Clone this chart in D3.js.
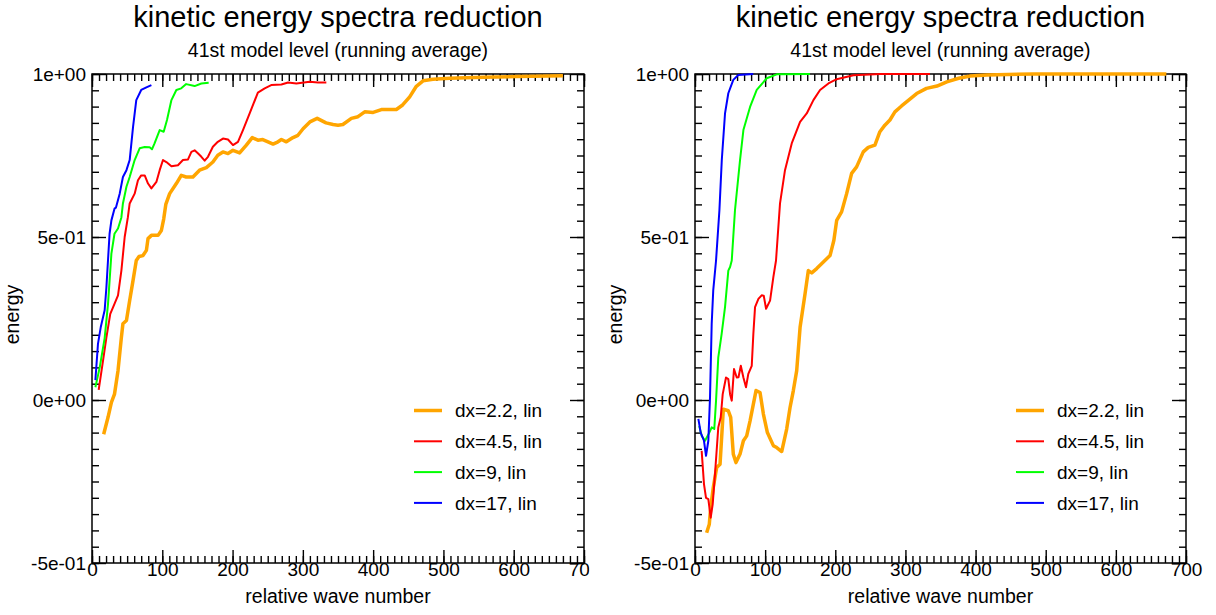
<!DOCTYPE html>
<html>
<head>
<meta charset="utf-8">
<script src="https://cdn.jsdelivr.net/npm/d3@7"></script>
<style>
  body { margin: 0; background: #fff; }
  text { font-family: "Liberation Sans", Arial, Helvetica, sans-serif; fill: #000; }
</style>
</head>
<body>
<div id="chart"></div>
<script>
// ---- data: [relative wave number, energy] ----
var seriesNames = ["dx=2.2, lin", "dx=4.5, lin", "dx=9, lin", "dx=17, lin"];
var seriesColors = ["#ffa500", "#ff0000", "#00ff00", "#0000ff"];
var seriesWidths = [3.5, 2, 2, 2];

var titleText = "kinetic energy spectra reduction";
var subtitleText = "41st model level (running average)";
var xLabelText = "relative wave number";
var yLabelText = "energy";

var xTickValues = [0, 100, 200, 300, 400, 500, 600, 700];
var xTickLabels = ["0", "100", "200", "300", "400", "500", "600", "700"];
var yTickValues = [-0.5, 0, 0.5, 1];
var yTickLabels = ["-5e-01", "0e+00", "5e-01", "1e+00"];

// left panel
var left22 = [[16.6,-0.105],[22.8,-0.053],[27.6,-0.007],[32,0.018],[37,0.09],[41.8,0.192],[44,0.234],[49,0.244],
  [53.6,0.305],[58.4,0.367],[63,0.428],[66.9,0.44],[72.5,0.443],[77.4,0.459],[79.7,0.495],[84.5,0.505],[94,0.505],
  [98.7,0.52],[102,0.555],[105,0.6],[110.5,0.633],[120,0.664],[127,0.689],[134,0.684],[143.6,0.684],[153,0.705],
  [162.7,0.713],[172,0.73],[179,0.751],[186.3,0.761],[193.5,0.756],[200.6,0.766],[210,0.758],[219.6,0.782],[228,0.805],
  [236,0.797],[243,0.799],[250.4,0.792],[257.6,0.785],[264.6,0.792],[269.5,0.799],[276.5,0.792],[286,0.805],[293,0.812],
  [300.3,0.832],[310,0.853],[320.4,0.864],[333,0.85],[343,0.845],[350,0.843],[357,0.845],[369,0.864],[378.4,0.869],
  [388,0.884],[400,0.882],[411.7,0.891],[421,0.891],[433,0.891],[442,0.905],[452,0.93],[461,0.961],[471,0.979],
  [485,0.984],[509,0.987],[556,0.99],[604,0.992],[670,0.995]];
var left45 = [[9.5,0.031],[15.7,0.121],[20.5,0.192],[26,0.264],[32,0.295],[37,0.321],[41.8,0.397],[46.5,0.5],[51,0.56],
  [53.6,0.603],[60.7,0.633],[65.4,0.674],[70,0.689],[75,0.689],[79.7,0.664],[84.5,0.649],[91.6,0.669],[96.3,0.705],
  [101,0.736],[105.8,0.73],[113,0.717],[122.3,0.72],[129.4,0.736],[136.6,0.738],[141.4,0.761],[146,0.766],[151,0.756],
  [155.6,0.746],[160.3,0.734],[165,0.746],[172,0.777],[179,0.792],[186.3,0.802],[193.5,0.799],[200.6,0.782],[207.7,0.792],
  [214.8,0.828],[224.3,0.879],[236,0.943],[245.7,0.956],[255,0.966],[269.5,0.968],[279,0.974],[290.8,0.971],
  [309.7,0.976],[321.5,0.974],[333.4,0.974]];
var left9 = [[4.8,0.039],[11,0.1],[18,0.19],[22.8,0.295],[27.6,0.449],[32,0.51],[37,0.526],[41.8,0.56],[44,0.603],
  [49,0.654],[53.6,0.684],[60.7,0.736],[67.8,0.772],[75,0.776],[82,0.775],[85.3,0.769],[89,0.787],[96.3,0.828],
  [102,0.823],[106.7,0.859],[113,0.92],[120,0.951],[127,0.956],[134,0.969],[146,0.963],[155.6,0.971],[166,0.973]];
var left17 = [[4.8,0.061],[8.5,0.172],[12.4,0.223],[18,0.275],[20.5,0.346],[25,0.51],[27.6,0.551],[32,0.587],[34,0.59],
  [39.4,0.633],[44,0.684],[49,0.705],[53.6,0.736],[58.4,0.838],[63,0.92],[70,0.951],[77.4,0.959],[84.5,0.966]];

// right panel
var right22 = [[16.6,-0.407],[20.4,-0.381],[22.4,-0.33],[26,-0.269],[30.9,-0.207],[35.7,-0.197],[40.4,-0.028],
  [47.5,-0.033],[50.9,-0.053],[54.6,-0.166],[58.4,-0.192],[64.2,-0.166],[69,-0.125],[73.7,-0.11],[78.5,-0.064],
  [87,0.029],[92.7,0.023],[97.5,-0.043],[103.2,-0.1],[111.7,-0.14],[116.5,-0.146],[123.6,-0.158],[130.7,-0.089],
  [135.5,-0.023],[140.2,0.029],[145,0.09],[149.8,0.223],[156.9,0.326],[161.6,0.397],[166.4,0.39],[173.5,0.403],
  [183,0.423],[192.5,0.443],[198,0.49],[202,0.551],[209,0.577],[216.2,0.633],[223.3,0.695],[230.4,0.715],[239.9,0.761],
  [247,0.775],[256.5,0.782],[263.6,0.823],[270.7,0.843],[277.9,0.859],[285,0.884],[294.5,0.902],[302,0.915],[316,0.94],
  [330,0.956],[345,0.963],[359,0.976],[376,0.987],[392.4,0.994],[416,0.997],[482,1.0],[672,1.0]];
var right45 = [[9.5,-0.156],[12.8,-0.258],[15.7,-0.3],[19,-0.304],[22.4,-0.361],[25.2,-0.32],[28.5,-0.227],[33.2,-0.084],
  [36.7,-0.053],[39.5,0.018],[44.2,0.069],[47.5,0.064],[50,0.018],[52.4,-0.002],[55.6,0.095],[59.5,0.069],[62,0.07],
  [65.3,0.105],[69,0.069],[72.7,0.039],[76,0.08],[80.9,0.105],[83.2,0.203],[85.6,0.285],[90.4,0.31],[95,0.321],[98,0.32],
  [101.3,0.28],[107,0.305],[111.7,0.377],[115.5,0.428],[121.2,0.603],[128.3,0.705],[137.9,0.787],[149.8,0.853],
  [159.3,0.879],[168.8,0.92],[178.3,0.951],[190.2,0.971],[202,0.984],[225.8,0.996],[264,1.0],[335,1.0]];
var right9 = [[6,-0.08],[9.5,-0.11],[14.3,-0.125],[20.4,-0.1],[23.8,-0.084],[27.5,-0.089],[30,-0.002],[33.2,0.131],
  [38,0.203],[42.8,0.285],[47.5,0.397],[50,0.408],[52.4,0.428],[57,0.582],[64.2,0.736],[69,0.828],[78.5,0.899],
  [88,0.951],[102.3,0.987],[116.5,0.999],[164,1.0]];
var right17 = [[4.8,-0.058],[8.1,-0.1],[12.8,-0.125],[15.7,-0.171],[19,-0.125],[21.4,0.008],[23.8,0.234],[26,0.336],
  [30,0.428],[34.8,0.582],[38.2,0.736],[42.8,0.879],[47.5,0.941],[54.6,0.982],[61.7,0.997],[83,1.0]];

// ---- layout ----
var svgWidth = 1216;
var svgHeight = 615;
var frameTop = 74;
var frameBottom = 563;

var panels = [
  { left: 92, right: 584, clipRight: 589.5, series: [left22, left45, left9, left17] },
  { left: 695, right: 1186, clipRight: null, series: [right22, right45, right9, right17] }
];

var svg = d3.select("#chart")
            .append("svg")
            .attr("width", svgWidth)
            .attr("height", svgHeight);

svg.append("defs").append("clipPath")
   .attr("id", "leftClip")
   .append("rect")
   .attr("x", 0).attr("y", 0)
   .attr("width", panels[0].clipRight)
   .attr("height", svgHeight);

panels.forEach(function(p, pi) {
  var g = svg.append("g");

  var xScale = d3.scaleLinear().domain([0, 700]).range([p.left, p.right]);
  var yScale = d3.scaleLinear().domain([-0.5, 1]).range([frameBottom, frameTop]);
  var cx = (p.left + p.right) / 2;

  // titles
  g.append("text")
   .attr("x", cx).attr("y", 27)
   .attr("text-anchor", "middle")
   .attr("font-size", "29px")
   .text(titleText);
  g.append("text")
   .attr("x", cx).attr("y", 57)
   .attr("text-anchor", "middle")
   .attr("font-size", "19.5px")
   .text(subtitleText);

  var minorX = d3.range(0, 701, 10);
  var minorY = d3.range(-0.5, 1.0001, 0.05);

  // minor + major ticks on all four sides, pointing inward
  var tickSides = [
    { axis: d3.axisBottom, scale: xScale, at: "translate(0," + frameBottom + ")", minor: minorX, major: xTickValues, size: 13 },
    { axis: d3.axisTop, scale: xScale, at: "translate(0," + frameTop + ")", minor: minorX, major: xTickValues, size: 13 },
    { axis: d3.axisLeft, scale: yScale, at: "translate(" + p.left + ",0)", minor: minorY, major: yTickValues, size: 14 },
    { axis: d3.axisRight, scale: yScale, at: "translate(" + p.right + ",0)", minor: minorY, major: yTickValues, size: 14 }
  ];
  tickSides.forEach(function(s) {
    var minorAxis = s.axis(s.scale).tickValues(s.minor).tickSizeInner(-7).tickSizeOuter(0).tickFormat("");
    var majorAxis = s.axis(s.scale).tickValues(s.major).tickSizeInner(-s.size).tickSizeOuter(0).tickFormat("");
    [minorAxis, majorAxis].forEach(function(a) {
      var ag = g.append("g").attr("transform", s.at).call(a);
      ag.select(".domain").remove();
      ag.selectAll("line").attr("stroke", "#000").attr("stroke-width", 1.4);
    });
  });

  // tick labels
  var xLab = g.append("g")
              .attr("transform", "translate(0," + frameBottom + ")")
              .call(d3.axisBottom(xScale).tickValues(xTickValues).tickSize(0).tickPadding(0)
                      .tickFormat(function(d, i) { return xTickLabels[i]; }));
  xLab.select(".domain").remove();
  xLab.selectAll("text").attr("font-size", "19px").attr("font-family", null).attr("dy", "0.7em");
  if (p.clipRight) xLab.attr("clip-path", "url(#leftClip)");

  var yLab = g.append("g")
              .attr("transform", "translate(" + p.left + ",0)")
              .call(d3.axisLeft(yScale).tickValues(yTickValues).tickSize(0).tickPadding(6)
                      .tickFormat(function(d, i) { return yTickLabels[i]; }));
  yLab.select(".domain").remove();
  yLab.selectAll("text").attr("font-size", "19px").attr("font-family", null);

  // axis labels
  g.append("text")
   .attr("x", cx).attr("y", 603)
   .attr("text-anchor", "middle")
   .attr("font-size", "19.5px")
   .text(xLabelText);
  g.append("text")
   .attr("transform", "translate(" + (p.left - 73) + "," + ((frameTop + frameBottom) / 2 - 4) + ") rotate(-90)")
   .attr("text-anchor", "middle")
   .attr("font-size", "19.5px")
   .text(yLabelText);

  // frame
  g.append("rect")
   .attr("x", p.left).attr("y", frameTop)
   .attr("width", p.right - p.left).attr("height", frameBottom - frameTop)
   .attr("fill", "none")
   .attr("stroke", "#000")
   .attr("stroke-width", 1.5);

  // lines
  var line = d3.line()
               .x(function(d) { return xScale(d[0]); })
               .y(function(d) { return yScale(d[1]); });
  p.series.forEach(function(data, i) {
    g.append("path")
     .datum(data)
     .attr("d", line)
     .attr("fill", "none")
     .attr("stroke", seriesColors[i])
     .attr("stroke-width", seriesWidths[i])
     .attr("stroke-linejoin", "round");
  });

  // legend
  var legX = p.right - 170;
  seriesNames.forEach(function(name, i) {
    var ly = 410.5 + i * 30.8;
    g.append("line")
     .attr("x1", legX).attr("x2", legX + 28)
     .attr("y1", ly).attr("y2", ly)
     .attr("stroke", seriesColors[i])
     .attr("stroke-width", seriesWidths[i]);
    g.append("text")
     .attr("x", legX + 41).attr("y", ly)
     .attr("dy", "0.36em")
     .attr("font-size", "19px")
     .text(name);
  });
});
</script>
</body>
</html>
